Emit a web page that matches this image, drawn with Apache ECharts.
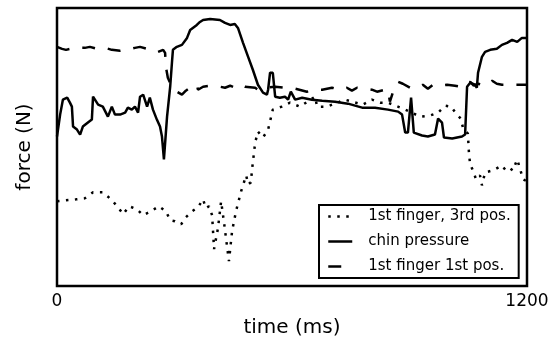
<!DOCTYPE html>
<html>
<head>
<meta charset="utf-8">
<script src="https://cdn.jsdelivr.net/npm/echarts@6/dist/echarts.min.js"></script>
<style>
html,body{margin:0;padding:0;background:#fff;}
#chart{width:559px;height:343px;}
</style>
</head>
<body>
<div id="chart"></div>
<script>
// time values (ms) and force values (arbitrary units) for each series
const chinTime = [0,8,15,26,33,38,41,51,59,66,79,89,92,105,117,130,140,148,161,174,181,191,199,207,212,220,230,237,245,255,263,268,273,281,289,294,296,306,319,332,340,345,357,365,373,391,416,429,442,454,462,475,488,500,513,526,536,539,544,551,557,569,582,590,597,608,626,651,677,710,743,779,812,845,871,881,889,896,904,911,932,947,965,973,983,988,1009,1034,1042,1047,1055,1067,1072,1075,1085,1093,1106,1123,1136,1149,1162,1175,1187,1200];
const chinForce = [150,172,187,189,184,180,160,157,152,160,164,167,190,182,180,170,180,172,172,174,179,177,180,174,190,192,180,189,177,167,160,150,127,170,200,227,237,240,242,249,257,259,262,265,267,268,267,264,262,263,259,244,230,217,202,194,192,197,214,214,190,189,190,187,195,187,189,187,186,185,183,179,179,177,175,172,154,154,189,154,151,150,152,168,164,149,148,150,152,200,204,202,199,214,230,235,237,238,242,244,247,245,249,249];

const f1Time = [0,13,23,46,71,84,102,123,140,161,179,199,212,230,245,258,271,276,278,283,291,294,306,319,329,340,357,360,373,391,416,429,442,454,467,472,480,506,513,531,557,582,608,638,659,677,702,723,740,753,766,786,804,817,837,845,850,858,871,883,901,922,934,947,960,978,996,1016,1029,1042,1055,1064,1075,1093,1111,1123,1136,1157,1177,1200];
const f1Force = [240,238,237,239,239,240,238,239,237,236,237,239,240,238,235,235,237,234,220,209,202,199,195,192,196,199,202,197,200,201,200,199,201,199,202,204,200,199,197,199,200,199,198,195,197,197,199,197,199,196,199,198,197,195,197,197,185,195,205,203,199,199,202,198,202,201,202,201,200,201,205,201,203,201,206,203,202,202,202,202];

const f3Time = [0,23,49,71,92,117,138,156,169,184,204,220,240,260,278,289,301,317,329,345,360,373,380,388,396,401,411,419,426,439,447,457,470,483,488,495,498,506,513,526,539,551,574,595,620,659,664,689,735,781,804,825,845,889,927,952,973,991,1006,1019,1031,1037,1049,1052,1055,1062,1070,1080,1085,1093,1113,1136,1146,1157,1164,1175,1182,1190,1200];
const f3Force = [85,86,87,88,94,94,87,79,72,80,77,71,75,80,75,66,65,62,69,75,79,87,78,80,71,37,58,85,65,25,55,75,95,111,102,104,117,144,155,149,157,177,180,184,180,190,180,180,187,182,187,184,184,177,170,171,174,181,180,173,168,158,153,132,122,116,107,111,101,114,116,121,116,118,116,127,118,107,105];

const xTicks = [0, 1200];
const seriesNames = ['1st finger, 3rd pos.', 'chin pressure', '1st finger 1st pos.'];

function pairs(t, v) { return t.map((x, i) => [x, v[i]]); }

const FONT = 'DejaVu Sans';
const dotted = {color: '#000', width: 2.5, type: [2.5, 6.5], cap: 'butt'};
const solid = {color: '#000', width: 2.5, type: 'solid'};
const dashed = {color: '#000', width: 2.5, type: [13, 13], cap: 'butt'};
const hiddenSymbol = {color: 'rgba(0,0,0,0)', borderWidth: 0, opacity: 0};

const chart = echarts.init(document.getElementById('chart'), null, {renderer: 'canvas'});
chart.setOption({
  animation: false,
  backgroundColor: '#fff',
  grid: {left: 57, right: 32, top: 8, bottom: 56, show: true, borderColor: '#000', borderWidth: 2.5, backgroundColor: 'transparent'},
  xAxis: {
    type: 'value', min: xTicks[0], max: xTicks[1], interval: xTicks[1] - xTicks[0],
    name: 'time (ms)', nameLocation: 'middle', nameGap: 32,
    nameTextStyle: {fontFamily: FONT, fontSize: 20, color: '#000'},
    axisLine: {show: false}, axisTick: {show: false}, splitLine: {show: false},
    axisLabel: {fontFamily: FONT, fontSize: 17, color: '#000', margin: 7, formatter: v => String(v)}
  },
  yAxis: {
    type: 'value', min: 0, max: 279,
    name: 'force (N)', nameLocation: 'middle', nameGap: 22,
    nameTextStyle: {fontFamily: FONT, fontSize: 20, color: '#000'},
    axisLine: {show: false}, axisTick: {show: false}, splitLine: {show: false},
    axisLabel: {show: false}
  },
  legend: {
    left: 319, top: 205, orient: 'vertical',
    data: [
      {name: seriesNames[0], lineStyle: dotted, itemStyle: hiddenSymbol},
      {name: seriesNames[1], lineStyle: solid, itemStyle: hiddenSymbol},
      {name: seriesNames[2], lineStyle: dashed, itemStyle: hiddenSymbol}
    ],
    itemStyle: hiddenSymbol,
    borderColor: '#000', borderWidth: 2, borderRadius: 0,
    padding: [4, 8, 4, 8], itemGap: 10, itemWidth: 24, itemHeight: 14,
    textStyle: {fontFamily: FONT, fontSize: 15, color: '#000', padding: [0, 0, 0, 11]},
    backgroundColor: '#fff'
  },
  series: [
    {name: seriesNames[0], type: 'line', data: pairs(f3Time, f3Force), showSymbol: false, symbol: 'none',
     lineStyle: dotted, itemStyle: {color: '#000'}},
    {name: seriesNames[1], type: 'line', data: pairs(chinTime, chinForce), showSymbol: false, symbol: 'none',
     lineStyle: solid, itemStyle: {color: '#000'}},
    {name: seriesNames[2], type: 'line', data: pairs(f1Time, f1Force), showSymbol: false, symbol: 'none',
     lineStyle: dashed, itemStyle: {color: '#000'}}
  ]
});
</script>
</body>
</html>
